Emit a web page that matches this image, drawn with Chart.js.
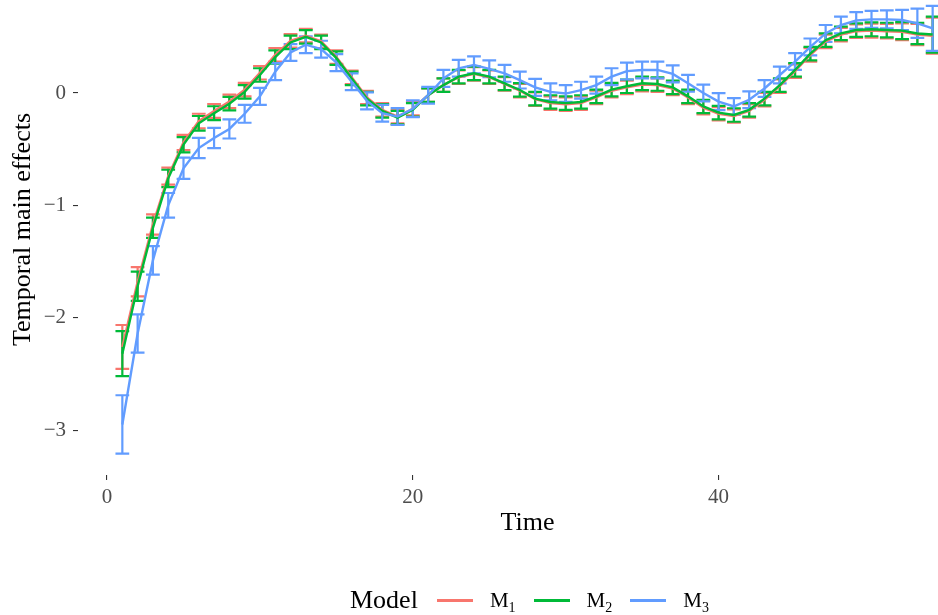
<!DOCTYPE html>
<html>
<head>
<meta charset="utf-8">
<script src="https://cdn.jsdelivr.net/npm/chart.js@4.4.1/dist/chart.umd.min.js"></script>
<style>
  html, body { margin: 0; padding: 0; width: 938px; height: 615px; overflow: hidden; background: #fff; }
  #wrap { position: absolute; left: 0; top: -16px; width: 980px; height: 631px; }
  #legenda {
    position: absolute; left: 350px; top: 584px; height: 32px;
    display: flex; align-items: center; white-space: nowrap;
    font-family: "Liberation Serif", serif; color: #000;
  }
  #legenda .titulo { font-size: 26px; margin-right: 19px; }
  #legenda .chave { display: inline-block; width: 36px; height: 3px; margin-right: 17px; }
  #legenda .rotulo { font-size: 21px; margin-right: 18px; }
  #legenda .rotulo span { font-size: 14px; position: relative; top: 5px; }
</style>
</head>
<body>
<div id="wrap"><canvas id="grafico" width="980" height="631"></canvas></div>
<div id="legenda">
  <span class="titulo">Model</span>
  <span class="chave" style="background:#F8766D"></span><span class="rotulo">M<span>1</span></span>
  <span class="chave" style="background:#00BA38"></span><span class="rotulo">M<span>2</span></span>
  <span class="chave" style="background:#619CFF"></span><span class="rotulo">M<span>3</span></span>
</div>
<script>
// dados
const tempo = [1,2,3,4,5,6,7,8,9,10,11,12,13,14,15,16,17,18,19,20,21,22,23,24,25,26,27,
  28,29,30,31,32,33,34,35,36,37,38,39,40,41,42,43,44,45,46,47,48,49,50,51,52,53,54];

const m1 = [-2.26,-1.68,-1.17,-0.74,-0.44,-0.25,-0.16,-0.075,0.03,0.18,0.34,0.465,0.51,0.46,0.32,0.14,
  -0.04,-0.15,-0.21,-0.14,-0.02,0.07,0.14,0.17,0.14,0.08,0.02,-0.055,-0.09,-0.10,-0.09,-0.04,0.02,0.05,
  0.075,0.07,0.04,-0.04,-0.13,-0.185,-0.205,-0.16,-0.06,0.06,0.195,0.34,0.46,0.52,0.55,0.555,0.55,0.545,0.52,0.51];
const m2 = [-2.32,-1.72,-1.20,-0.76,-0.46,-0.27,-0.18,-0.095,0.01,0.16,0.32,0.45,0.50,0.45,0.31,0.13,
  -0.05,-0.16,-0.22,-0.15,-0.02,0.07,0.145,0.175,0.145,0.085,0.027,-0.05,-0.08,-0.09,-0.08,-0.03,0.03,0.06,
  0.086,0.08,0.05,-0.03,-0.12,-0.175,-0.196,-0.15,-0.05,0.07,0.205,0.35,0.47,0.53,0.56,0.567,0.56,0.555,0.53,0.52];
const m3 = [-2.95,-2.14,-1.49,-1.00,-0.67,-0.49,-0.40,-0.32,-0.185,-0.03,0.19,0.36,0.43,0.39,0.27,0.10,
  -0.07,-0.18,-0.21,-0.14,-0.02,0.13,0.22,0.25,0.215,0.175,0.115,0.05,0.01,-0.005,0.025,0.07,0.145,0.195,
  0.205,0.205,0.17,0.086,0.0,-0.077,-0.12,-0.06,0.04,0.16,0.28,0.41,0.53,0.605,0.645,0.655,0.655,0.65,0.62,0.575];

// meia largura das barras de erro
const m1Erro = [0.195,0.13,0.09,0.075,0.068,0.065,0.062,0.06,0.06,0.06,0.06,0.06,0.06,0.06,0.06,0.06,0.06,0.06,
  0.06,0.06,0.06,0.06,0.06,0.06,0.06,0.06,0.06,0.06,0.06,0.06,0.06,0.06,0.06,0.06,0.06,0.06,0.06,0.06,0.06,0.06,
  0.06,0.06,0.06,0.06,0.06,0.06,0.06,0.06,0.06,0.062,0.065,0.075,0.095,0.16];
const m2Erro = [0.20,0.13,0.09,0.077,0.068,0.065,0.062,0.06,0.06,0.06,0.06,0.06,0.06,0.06,0.06,0.06,0.06,0.06,
  0.06,0.06,0.06,0.06,0.06,0.06,0.06,0.06,0.06,0.06,0.06,0.06,0.06,0.06,0.06,0.06,0.06,0.06,0.06,0.06,0.06,0.06,
  0.06,0.06,0.06,0.06,0.06,0.06,0.06,0.06,0.06,0.062,0.065,0.075,0.095,0.16];
const m3Erro = [0.26,0.17,0.127,0.11,0.095,0.09,0.09,0.085,0.08,0.075,0.075,0.075,0.075,0.075,0.075,0.075,0.075,
  0.075,0.075,0.075,0.075,0.075,0.075,0.075,0.075,0.075,0.075,0.075,0.075,0.075,0.075,0.075,0.075,0.075,0.075,
  0.075,0.075,0.075,0.075,0.075,0.075,0.075,0.075,0.075,0.075,0.075,0.075,0.075,0.075,0.075,0.08,0.09,0.13,0.20];

const xTicks = [0, 20, 40];
const yTicks = [-3, -2, -1, 0];

const series = [
  { nome: 'M1', valores: m1, erro: m1Erro, cor: '#F8766D' },
  { nome: 'M2', valores: m2, erro: m2Erro, cor: '#00BA38' },
  { nome: 'M3', valores: m3, erro: m3Erro, cor: '#619CFF' }
];

// barras de erro desenhadas antes das linhas
const barrasErro = {
  id: 'barrasErro',
  beforeDatasetsDraw(chart) {
    const { ctx, chartArea, scales: { x, y } } = chart;
    ctx.save();
    ctx.beginPath();
    ctx.rect(chartArea.left, chartArea.top, chartArea.width, chartArea.height);
    ctx.clip();
    ctx.lineWidth = 2.2;
    series.forEach(s => {
      ctx.strokeStyle = s.cor;
      tempo.forEach((t, i) => {
        const xc = x.getPixelForValue(t);
        const x0 = x.getPixelForValue(t - 0.45);
        const x1 = x.getPixelForValue(t + 0.45);
        const yBaixo = y.getPixelForValue(s.valores[i] - s.erro[i]);
        const yAlto = y.getPixelForValue(s.valores[i] + s.erro[i]);
        ctx.beginPath();
        ctx.moveTo(xc, yBaixo); ctx.lineTo(xc, yAlto);
        ctx.moveTo(x0, yBaixo); ctx.lineTo(x1, yBaixo);
        ctx.moveTo(x0, yAlto); ctx.lineTo(x1, yAlto);
        ctx.stroke();
      });
    });
    ctx.restore();
  }
};

const fonteTick = { family: '"Liberation Serif", serif', size: 21 };
const fonteTitulo = { family: '"Liberation Serif", serif', size: 26 };

new Chart(document.getElementById('grafico'), {
  type: 'line',
  data: {
    datasets: series.map((s, k) => ({
      label: s.nome,
      data: tempo.map((t, i) => ({ x: t, y: s.valores[i] })),
      borderColor: s.cor,
      backgroundColor: s.cor,
      borderWidth: 2.4,
      pointRadius: 0,
      tension: 0,
      fill: false,
      order: 2 - k
    }))
  },
  options: {
    responsive: false,
    animation: false,
    devicePixelRatio: 1,
    layout: { padding: { left: 0, top: 0, right: 3, bottom: 76 } },
    plugins: { legend: { display: false }, tooltip: { enabled: false } },
    scales: {
      x: {
        type: 'linear',
        min: -1.9,
        max: 56.9,
        afterBuildTicks: s => { s.ticks = xTicks.map(v => ({ value: v })); },
        afterFit: s => { s.height = 64; s.paddingLeft = 0; s.paddingRight = 0; },
        grid: { display: true, drawOnChartArea: false, drawTicks: true, tickLength: 5, color: '#333333', lineWidth: 1.1 },
        border: { display: false },
        ticks: { font: fonteTick, color: '#4D4D4D', padding: 5, maxRotation: 0 },
        title: { display: true, text: 'Time', font: fonteTitulo, color: '#000', padding: 0 }
      },
      y: {
        min: -3.4,
        max: 0.97,
        afterBuildTicks: s => { s.ticks = yTicks.map(v => ({ value: v })); },
        afterFit: s => { s.width = 78; s.paddingTop = 0; s.paddingBottom = 0; },
        grid: { display: true, drawOnChartArea: false, drawTicks: true, tickLength: 5, color: '#333333', lineWidth: 1.1 },
        border: { display: false },
        ticks: {
          font: fonteTick, color: '#4D4D4D', padding: 7,
          callback: v => (v < 0 ? '\u2212' + Math.abs(v) : String(v))
        },
        title: { display: true, text: 'Temporal main effects', font: fonteTitulo, color: '#000', padding: { top: 8, bottom: 0 } }
      }
    }
  },
  plugins: [barrasErro]
});
</script>
</body>
</html>
